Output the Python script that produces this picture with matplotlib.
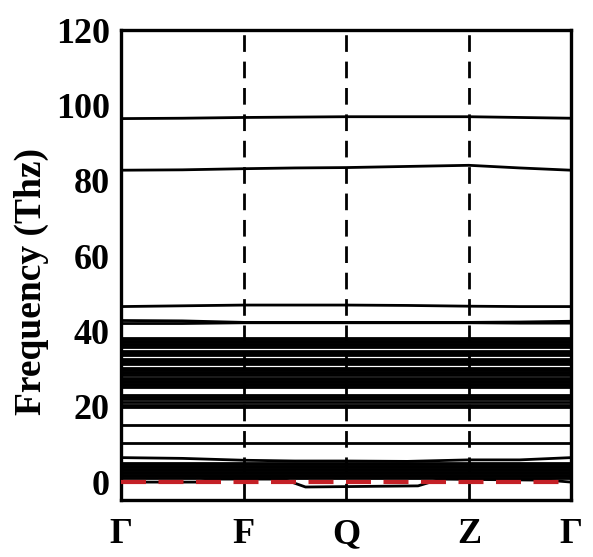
import matplotlib
matplotlib.use("Agg")
import matplotlib.pyplot as plt

# Chemin k : positions des points de haute symétrie
k_ticks = [0.0, 0.273, 0.5, 0.773, 1.0]
k_labels = ["Γ", "F", "Q", "Z", "Γ"]

# noeuds intermédiaires (Γ, mi, F, mi, Q, mi, Z, mi, Γ)
k_nodes = [0.0, 0.136, 0.273, 0.386, 0.5, 0.636, 0.773, 0.886, 1.0]

# bandes qui varient le long du chemin (THz)
band_top = [96.5, 96.6, 96.8, 96.9, 97.0, 97.0, 97.0, 96.8, 96.6]
band_83 = [82.8, 82.9, 83.2, 83.4, 83.5, 83.8, 84.1, 83.4, 82.8]
band_47 = [46.6, 46.8, 47.0, 47.0, 47.0, 46.9, 46.7, 46.6, 46.6]
band_42a = [42.1, 42.1, 42.3, 42.3, 42.3, 42.3, 42.3, 42.2, 42.2]
band_42b = [42.9, 42.8, 42.4, 42.4, 42.4, 42.4, 42.4, 42.5, 42.7]
band_6 = [6.5, 6.3, 5.8, 5.6, 5.6, 5.5, 5.9, 5.9, 6.5]

# bande la plus basse (mode mou) avec sa propre grille
k_low = [0.0, 0.17, 0.2, 0.36, 0.41, 0.66, 0.71, 0.95, 1.0]
band_low = [0.0, 0.0, 0.8, 0.8, -1.3, -1.0, 0.8, 0.5, 0.0]

# bandes quasi plates (paquets denses)
flat_high = [35.9, 36.3, 36.7, 37.1, 37.5, 37.9, 38.2,
             33.7, 34.1, 34.5, 34.9,
             31.3, 31.7, 32.1, 32.5, 32.8,
             28.5, 28.9, 29.3, 29.7, 30.1, 30.4,
             25.3, 25.7, 26.1, 26.5, 26.9, 27.3, 27.6,
             19.9, 20.6, 21.3, 22.0, 22.7, 23.1,
             15.1, 10.4]
flat_low = [1.2, 1.6, 2.0, 2.4, 2.8, 3.2, 3.6, 4.0, 4.4, 4.8, 5.2]

zero_level = 0.0

plt.rcParams["font.family"] = ["Liberation Serif", "DejaVu Serif"]
plt.rcParams["font.weight"] = "bold"

fig = plt.figure(figsize=(5.93, 5.57), dpi=100)
ax = fig.add_axes([0.204, 0.102, 0.759, 0.844])

# lignes verticales aux points de haute symétrie
for k in k_ticks[1:-1]:
    ax.axvline(k, color="black", lw=2.0, dashes=(6, 3.5), zorder=1)

for b in [band_top, band_83, band_47, band_42a, band_42b, band_6]:
    ax.plot(k_nodes, b, color="black", lw=2.0, zorder=2)

for v in flat_high + flat_low:
    ax.plot([k_ticks[0], k_ticks[-1]], [v, v], color="black", lw=2.0, zorder=2)

ax.plot(k_low, band_low, color="black", lw=2.0, zorder=2)

ax.plot([k_ticks[0], k_ticks[-1]], [zero_level, zero_level], color="#c42026",
        lw=3.0, dashes=(6, 3), zorder=3)

ax.set_xlim(0, 1)
ax.set_ylim(-4.8, 120)
ax.set_xticks(k_ticks)
ax.set_xticklabels(k_labels)
ax.set_yticks([0, 20, 40, 60, 80, 100, 120])
ax.tick_params(axis="both", length=0, labelsize=26)
ax.tick_params(axis="x", pad=13)
ax.tick_params(axis="y", pad=8)
for s in ax.spines.values():
    s.set_linewidth(2.4)

ax.set_ylabel("Frequency (Thz)", fontsize=27, fontweight="bold")
ax.yaxis.set_label_coords(-0.16, 0.466)

fig.savefig("out.png", dpi=100)
